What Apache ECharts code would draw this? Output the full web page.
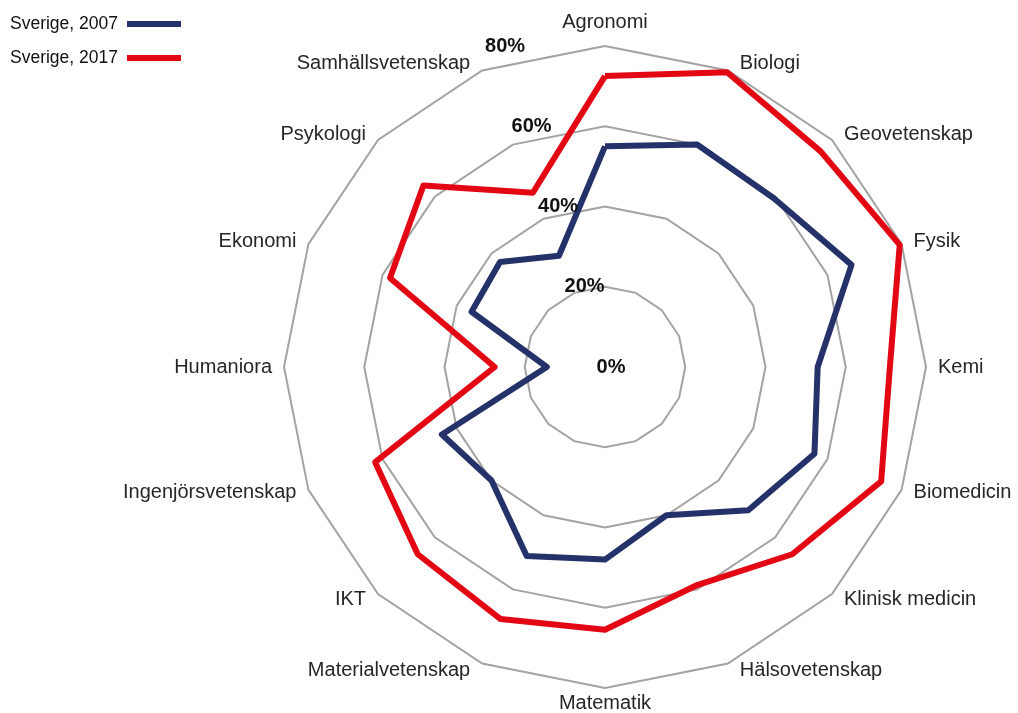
<!DOCTYPE html>
<html>
<head>
<meta charset="utf-8">
<style>
  html, body { margin: 0; padding: 0; background: #fff; }
  #chart { width: 1018px; height: 713px; }
</style>
<script src="https://cdn.jsdelivr.net/npm/echarts@6/dist/echarts.min.js"></script>
</head>
<body>
<div id="chart"></div>
<script>
// Subject areas, clockwise from the top
const subjects = [
  'Agronomi', 'Biologi', 'Geovetenskap', 'Fysik', 'Kemi', 'Biomedicin',
  'Klinisk medicin', 'Hälsovetenskap', 'Matematik', 'Materialvetenskap',
  'IKT', 'Ingenjörsvetenskap', 'Humaniora', 'Ekonomi', 'Psykologi',
  'Samhällsvetenskap'
];
const seriesNames = ['Sverige, 2007', 'Sverige, 2017'];
const values2007 = [55, 60, 59.5, 66.5, 53, 56.5, 50.5, 40, 48, 51, 40, 44, 14.5, 36, 37, 30];
const values2017 = [72.5, 79.5, 76, 79.5, 71, 74.5, 66, 59, 65.5, 68, 66, 62, 27.5, 58, 64, 47];
const ticks = [0, 20, 40, 60, 80];

const colors = ['#253169', '#e30613'];
const maxValue = ticks[ticks.length - 1];
const center = [605, 367];
const radius = 321;
const font = '"Liberation Sans", Arial, sans-serif';

// ECharts lays radar axes out counter-clockwise; keep the first axis on top
// and reverse the rest so the subjects run clockwise.
function clockwise(arr) {
  return [arr[0]].concat(arr.slice(1).reverse());
}

const chart = echarts.init(document.getElementById('chart'));

// Percentage labels stepped up and to the left of the centre
const tickLabels = ticks.map(function (v) {
  const r = radius * v / maxValue;
  return {
    type: 'text',
    x: center[0] + 6 - 0.33 * r,
    y: center[1] - r,
    style: {
      text: v + '%',
      fill: '#111',
      font: 'bold 20px ' + font,
      align: 'center',
      verticalAlign: 'middle'
    },
    z: 10
  };
});

// Subject names placed just outside the outer ring, beside each vertex
const subjectLabels = subjects.map(function (name, i) {
  const a = i * 2 * Math.PI / subjects.length;
  const s = Math.sin(a), c = Math.cos(a);
  const vx = center[0] + radius * s;
  const vy = center[1] - radius * c;
  let x = vx, y = vy, align = 'center', vAlign = 'middle';
  if (Math.abs(s) < 1e-6) {
    if (c > 0) { y = vy - 14; vAlign = 'bottom'; }
    else { y = vy + 5; vAlign = 'top'; }
  } else {
    x = vx + (s > 0 ? 12 : -12);
    y = vy - c * 8;
    align = s > 0 ? 'left' : 'right';
  }
  return {
    type: 'text',
    x: x,
    y: y,
    style: {
      text: name,
      fill: '#262626',
      font: '20px ' + font,
      align: align,
      verticalAlign: vAlign
    }
  };
});

chart.setOption({
  animation: false,
  backgroundColor: '#ffffff',
  color: colors,
  legend: {
    orient: 'vertical',
    left: 5,
    top: 10,
    padding: 5,
    align: 'right',
    itemGap: 16,
    itemWidth: 54,
    itemHeight: 6,
    icon: 'rect',
    textStyle: {
      color: '#111',
      fontSize: 17.5,
      fontFamily: font,
      padding: [0, 4, 0, 0]
    },
    data: seriesNames
  },
  radar: {
    center: center,
    radius: radius,
    startAngle: 90,
    shape: 'polygon',
    splitNumber: ticks.length - 1,
    indicator: clockwise(subjects).map(function (s) { return { name: s, min: 0, max: maxValue }; }),
    axisName: { show: false },
    axisLine: { show: false },
    axisTick: { show: false },
    axisLabel: { show: false },
    splitArea: { show: false },
    splitLine: { lineStyle: { color: '#a3a3a3', width: 2 } }
  },
  series: [{
    type: 'radar',
    symbol: 'none',
    lineStyle: { width: 6 },
    data: [
      { name: seriesNames[0], value: clockwise(values2007), lineStyle: { color: colors[0], width: 6 }, itemStyle: { color: colors[0] } },
      { name: seriesNames[1], value: clockwise(values2017), lineStyle: { color: colors[1], width: 6 }, itemStyle: { color: colors[1] } }
    ]
  }],
  graphic: subjectLabels.concat(tickLabels)
});
</script>
</body>
</html>
